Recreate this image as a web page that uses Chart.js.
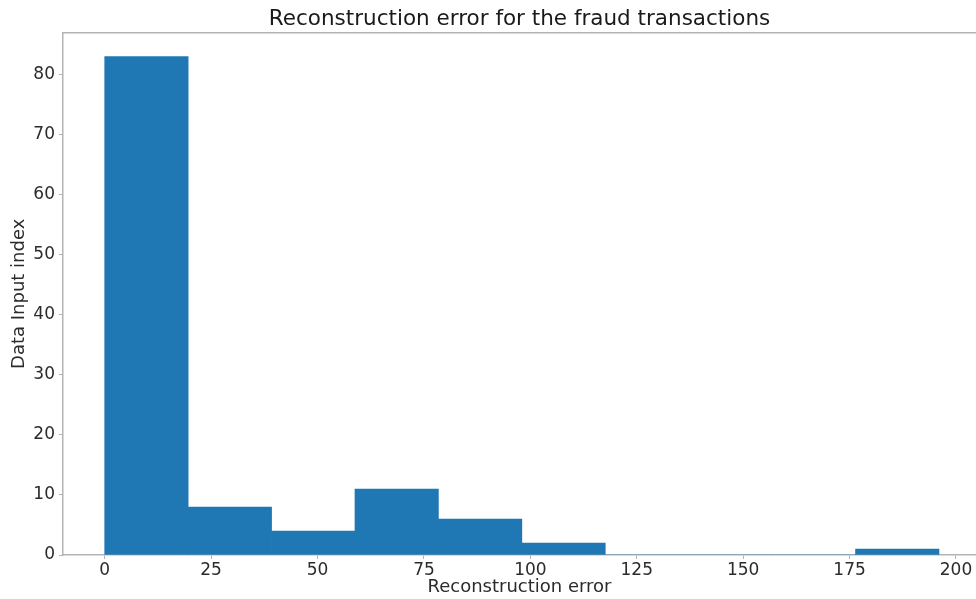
<!DOCTYPE html>
<html>
<head>
<meta charset="utf-8">
<script src="https://cdn.jsdelivr.net/npm/chart.js@4/dist/chart.umd.min.js"></script>
<style>
  html, body { margin: 0; padding: 0; background: #ffffff; overflow: hidden; }
  #wrap { width: 976px; height: 599px; position: relative; }
</style>
</head>
<body>
<div id="wrap"><canvas id="c"></canvas></div>
<script>
// Histogram bins (centers) and counts
const binCenters = [9.8, 29.4, 49.0, 68.6, 88.2, 107.8, 127.4, 147.0, 166.6, 186.2];
const binCounts  = [83, 8, 4, 11, 6, 2, 0, 0, 0, 1];
const xTicks = [0, 25, 50, 75, 100, 125, 150, 175, 200];
const yTicks = [0, 10, 20, 30, 40, 50, 60, 70, 80];

const titleText = 'Reconstruction error for the fraud transactions';
const xTitle = 'Reconstruction error';
const yTitle = 'Data Input index';

const spineColor = '#b4b4b4';
const textColor = '#2b2b2b';
const FONT = 'DejaVu Sans';

const topSpine = {
  id: 'topSpine',
  afterDraw(chart) {
    const {ctx, chartArea} = chart;
    ctx.save();
    ctx.strokeStyle = spineColor;
    ctx.lineWidth = 1.5;
    ctx.beginPath();
    ctx.moveTo(chartArea.left, chartArea.top);
    ctx.lineTo(chart.width, chartArea.top);
    ctx.stroke();
    ctx.restore();
  }
};

new Chart(document.getElementById('c'), {
  type: 'bar',
  data: {
    datasets: [{
      data: binCenters.map((x, i) => ({ x: x, y: binCounts[i] })),
      backgroundColor: '#1f77b4',
      borderWidth: 0,
      barPercentage: 1.0,
      categoryPercentage: 1.0
    }]
  },
  plugins: [topSpine],
  options: {
    responsive: true,
    maintainAspectRatio: false,
    animation: false,
    layout: { padding: { left: 0, right: 0, top: 0, bottom: 0 } },
    plugins: {
      legend: { display: false },
      tooltip: { enabled: false },
      title: {
        display: true,
        fullSize: false,
        text: titleText,
        color: '#1a1a1a',
        font: { family: FONT, size: 21.5, weight: 'normal', lineHeight: 1.1 },
        padding: { top: 8, bottom: 1 }
      }
    },
    scales: {
      x: {
        type: 'linear',
        z: 1,
        min: -9.8,
        max: 204.7,
        offset: false,
        afterBuildTicks(axis) { axis.ticks = xTicks.map(v => ({ value: v })); },
        afterFit(axis) { axis.height = 44; },
        ticks: {
          includeBounds: false,
          color: textColor,
          font: { family: FONT, size: 17 },
          padding: 1,
          maxRotation: 0,
          autoSkip: false
        },
        grid: { display: true, offset: false, drawOnChartArea: false, drawTicks: true, tickLength: 4, color: spineColor, lineWidth: 1 },
        border: { display: true, color: spineColor, width: 1.5 },
        title: {
          display: true,
          text: xTitle,
          color: textColor,
          font: { family: FONT, size: 18 },
          padding: { top: 0, bottom: 1 }
        }
      },
      y: {
        type: 'linear',
        z: 1,
        min: 0,
        max: 87,
        afterBuildTicks(axis) { axis.ticks = yTicks.map(v => ({ value: v })); },
        afterFit(axis) { axis.width = 63; },
        ticks: {
          color: textColor,
          font: { family: FONT, size: 17 },
          padding: 4
        },
        grid: { display: true, offset: false, drawOnChartArea: false, drawTicks: true, tickLength: 4, color: spineColor, lineWidth: 1 },
        border: { display: true, color: spineColor, width: 1.5 },
        title: {
          display: true,
          text: yTitle,
          color: textColor,
          font: { family: FONT, size: 18 },
          padding: { top: 9, bottom: 0 }
        }
      }
    }
  }
});
</script>
</body>
</html>
